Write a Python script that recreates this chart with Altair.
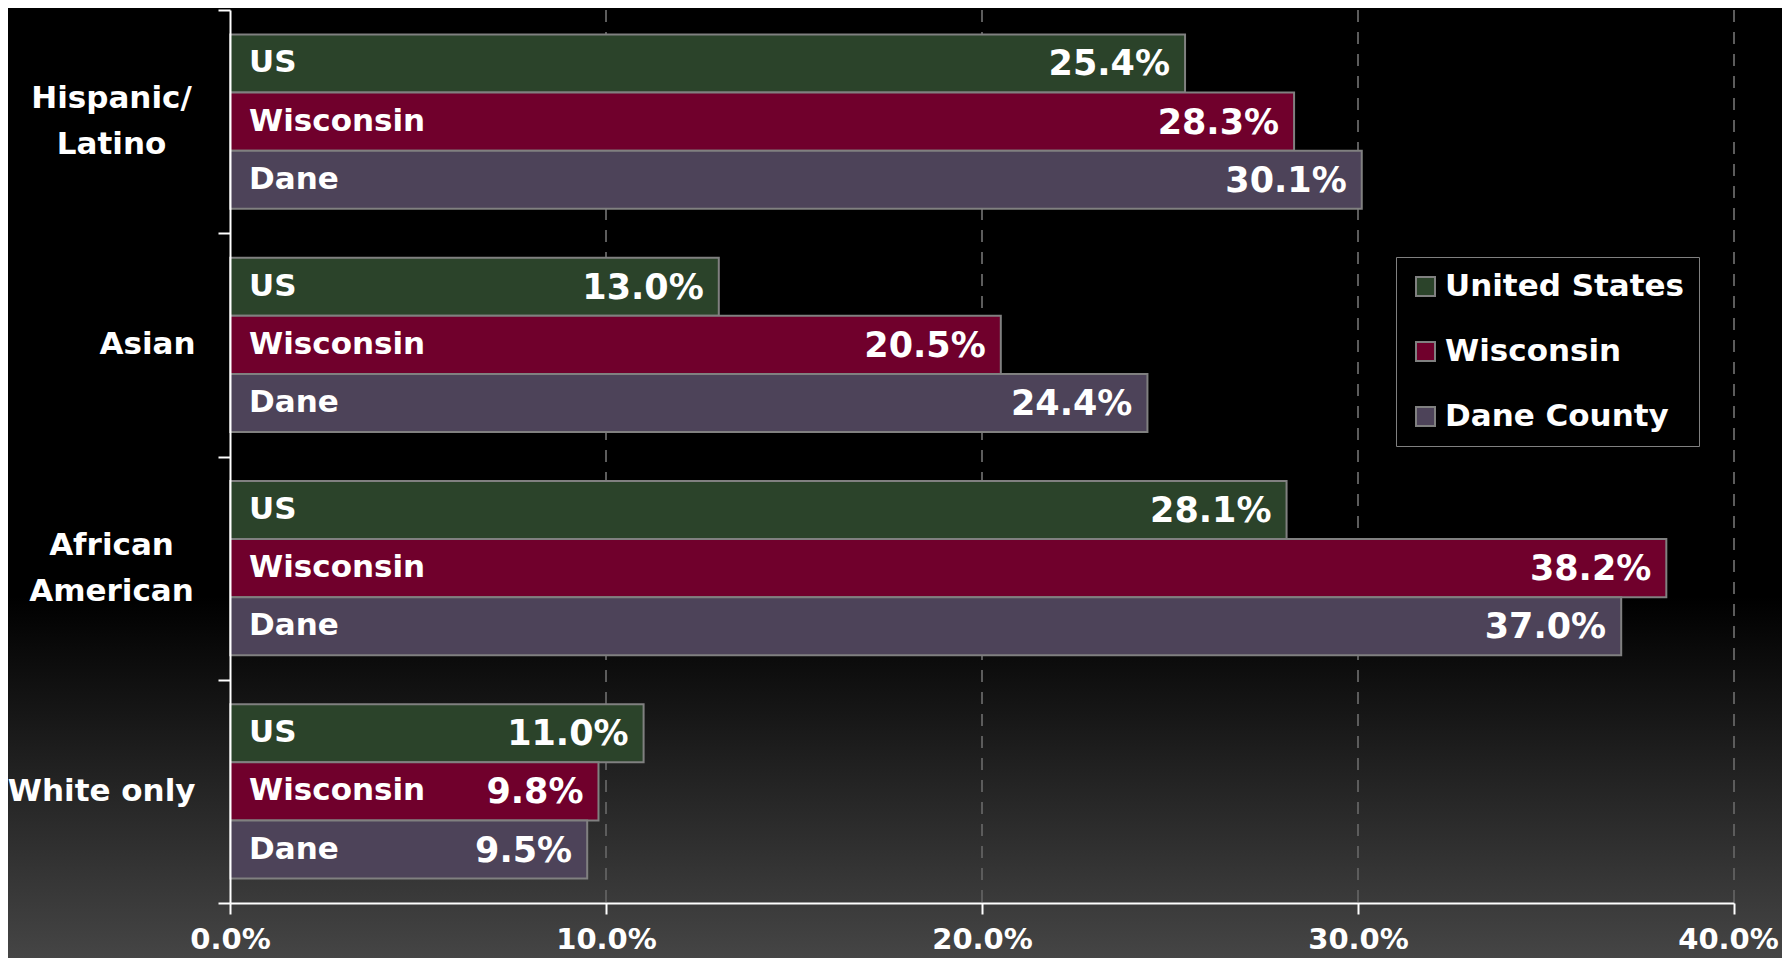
import altair as alt
import pandas as pd

groups = ["Hispanic/Latino", "Asian", "African American", "White only"]
series = ["US", "Wisconsin", "Dane"]
legend_names = ["United States", "Wisconsin", "Dane County"]
us_values = [25.4, 13.0, 28.1, 11.0]
wi_values = [28.3, 20.5, 38.2, 9.8]
dane_values = [30.1, 24.4, 37.0, 9.5]
x_ticks = [0, 10, 20, 30, 40]
colors = ["#2b432a", "#70002c", "#4d4359"]

rows = []
for s, vals in zip(series, [us_values, wi_values, dane_values]):
    for g, v in zip(groups, vals):
        rows.append({"group": g, "series": s, "value": v})
df = pd.DataFrame(rows)

W, H = 1504, 893
PL, PT, PR, PB = 222, 2, 48, 55
FONT = "DejaVu Sans"

x_axis = alt.Axis(
    values=x_ticks, labelExpr="format(datum.value, '.1f') + '%'", title=None,
    grid=False, zindex=1, domainColor="white", domainWidth=2, tickColor="white",
    tickWidth=2, tickSize=11, labelColor="white", labelFont=FONT,
    labelFontWeight="bold", labelFontSize=29, labelPadding=11, labelFlush=False,
    labelOffset={"condition": {"test": "datum.value == 40", "value": -6}, "value": 0},
)
x_scale = alt.Scale(domain=[0, 40], nice=False)
x_enc = alt.X("value:Q", scale=x_scale, axis=x_axis)

multi_test = "datum.value == 'Hispanic/Latino' || datum.value == 'African American'"
y_label_expr = ("datum.label == 'Hispanic/Latino' ? ['Hispanic/', 'Latino'] : "
                "datum.label == 'African American' ? ['African', 'American'] : datum.label")
y_axis = alt.Axis(
    title=None, tickBand="extent", grid=False, zindex=1, domainColor="white",
    domainWidth=2, tickColor="white", tickWidth=2, tickSize=12, labelColor="white",
    labelFont=FONT, labelFontWeight="bold", labelFontSize=31,
    labelPadding={"condition": {"test": multi_test, "value": 107}, "value": 23},
    labelAlign={"condition": {"test": multi_test, "value": "center"}, "value": "right"},
    labelOffset={"condition": {"test": multi_test, "value": -23}, "value": 0},
    labelLineHeight=46, labelExpr=y_label_expr, labelLimit=400,
)
y_enc = alt.Y("group:N", sort=groups, title=None,
              scale=alt.Scale(paddingInner=0, paddingOuter=0), axis=y_axis)
yoff_enc = alt.YOffset("series:N", sort=series,
                       scale=alt.Scale(paddingInner=0, paddingOuter=0.42))

gradient = alt.Gradient(
    gradient="linear", x1=0, x2=0, y1=0, y2=1,
    stops=[alt.GradientStop(offset=0, color="#000000"),
           alt.GradientStop(offset=0.62, color="#000000"),
           alt.GradientStop(offset=1, color="#454545")],
)
bg = alt.Chart(alt.Data(values=[{"bg": 1}])).mark_rect(color=gradient).encode(
    x=alt.value(-PL), x2=alt.value(W + PR), y=alt.value(-PT), y2=alt.value(H + PB)
)

grid = alt.Chart(pd.DataFrame({"value": x_ticks[1:]})).mark_rule(
    strokeDash=[12, 10], color="#5c5c5c", strokeWidth=2
).encode(x=x_enc)

base = alt.Chart(df).encode(y=y_enc, yOffset=yoff_enc)

legend_expr = ("datum.label == 'US' ? 'United States' : "
               "datum.label == 'Dane' ? 'Dane County' : datum.label")
bars = base.mark_bar(stroke="#808080", strokeWidth=2).encode(
    x=x_enc,
    color=alt.Color(
        "series:N", scale=alt.Scale(domain=series, range=colors),
        legend=alt.Legend(
            orient="none", legendX=1166, legendY=247, title=None,
            labelExpr=legend_expr, fillColor="black", strokeColor="#808080",
            padding=14, symbolType="square", symbolSize=361,
            symbolStrokeColor="#808080", symbolStrokeWidth=2, symbolOpacity=1,
            labelFont=FONT, labelFontWeight="bold", labelFontSize=31,
            labelColor="white", labelOffset=4, rowPadding=33, labelLimit=400,
        ),
    ),
)

name_text = base.transform_calculate(value="0").mark_text(
    align="left", baseline="middle", dx=19, color="white",
    font=FONT, fontWeight="bold", fontSize=31,
).encode(x=x_enc, text="series:N")

value_text = base.transform_calculate(
    label="format(datum.value, '.1f') + '%'"
).mark_text(
    align="right", baseline="middle", dx=-15, dy=1, color="white",
    font=FONT, fontWeight="bold", fontSize=35,
).encode(x=x_enc, text="label:N")

chart = alt.layer(bg, grid, bars, name_text, value_text).properties(
    width=W, height=H,
    padding={"left": PL, "top": PT, "right": PR, "bottom": PB},
    autosize=alt.AutoSizeParams(type="none"),
    background="black",
).configure_view(stroke=None)

chart.save("out.html", embed_options={"renderer": "svg", "actions": False})
